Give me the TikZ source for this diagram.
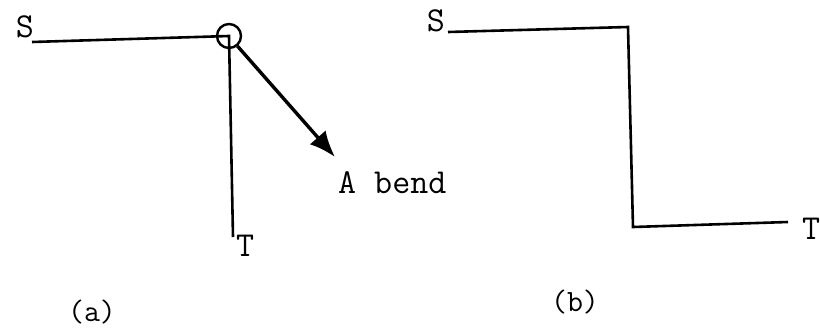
\documentclass[tikz,border=0pt]{standalone}
\usetikzlibrary{arrows.meta}

\begin{document}
\begin{tikzpicture}[x=1pt,y=-1pt,
  wire/.style={line width=2.6pt},
  lbl/.style={inner sep=0pt,font=\fontsize{35}{35}\ttfamily},
  sublbl/.style={inner sep=0pt,font=\fontsize{31}{31}\ttfamily}]
\useasboundingbox (0,0) rectangle (820,327);
% (a)
\coordinate (as) at (32,42);
\coordinate (ac) at (229,36);
\coordinate (at) at (233,237);
\node[lbl,anchor=base east] (sa) at (34,37) {S};
\node[lbl,anchor=base west] (ta) at (236,256) {T};
\node[lbl,anchor=base west] (bend) at (338,193) {A bend};
\node[draw,circle,line width=2.4pt,minimum size=24pt,inner sep=0pt] (knot) at (ac) {};
\draw[wire] (as) -- (ac) -- (at);
\coordinate (tip) at (335,157);
\draw[line width=3.4pt,-{Latex[length=26pt,width=21pt]}] (knot.-50) -- (tip);
\node[sublbl] (capa) at (92,312) {(a)};
% (b)
\coordinate (bs) at (448,32);
\coordinate (b1) at (628,27);
\coordinate (b2) at (633,227);
\coordinate (bt) at (788,222);
\node[lbl,anchor=base east] (sb) at (445,31) {S};
\node[lbl,anchor=base west] (tb) at (802,239) {T};
\draw[wire] (bs) -- (b1) -- (b2) -- (bt);
\node[sublbl] (capb) at (575,302) {(b)};
\end{tikzpicture}
\end{document}
